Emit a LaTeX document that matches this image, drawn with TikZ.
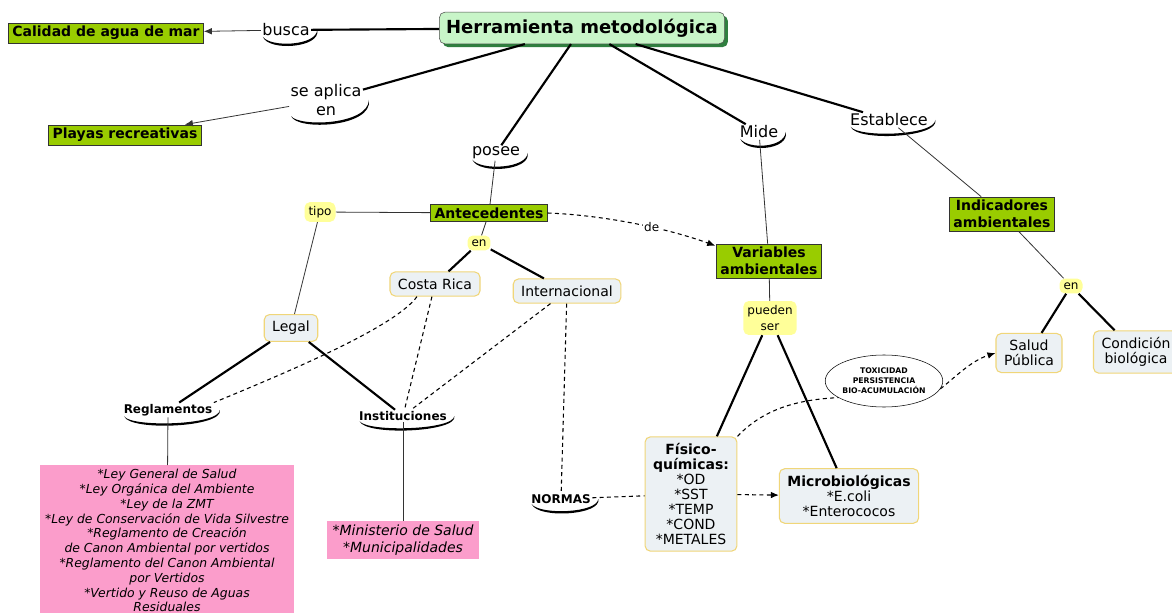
\documentclass[tikz,border=0pt]{standalone}
\usepackage{fontspec}
\setmainfont{DejaVu Sans}
\usetikzlibrary{shapes.geometric,calc,shadows,arrows.meta}
\definecolor{vd}{HTML}{99CC00}
\definecolor{vc}{HTML}{C8F5C8}
\definecolor{vs}{HTML}{2F7F3F}
\definecolor{am}{HTML}{FFFF99}
\definecolor{gc}{HTML}{ECF1F4}
\definecolor{bo}{HTML}{F0D679}
\definecolor{ro}{HTML}{FB9DCB}
\newcommand\swoosh[1]{\fill ($(#1.south west)+(2,-1)$) .. controls ($(#1.south west)+(8,14)$) and ($(#1.south east)+(10,10)$) .. ($(#1.east)+(6,0)$) .. controls ($(#1.south east)+(5,8)$) and ($(#1.south west)+(10,10)$) .. cycle;}

\begin{document}
\begin{tikzpicture}[x=0.75pt,y=-0.75pt,>={Latex[length=6pt,width=5pt]}]

\tikzstyle{raiz} = [draw=black!70, fill=vc, rounded corners=4pt, font=\fontsize{13.5}{16}\selectfont\bfseries, inner xsep=5pt, inner ysep=5pt, drop shadow={fill=vs, opacity=1, shadow xshift=2.5pt, shadow yshift=-2.5pt}]
\tikzstyle{verde} = [draw=black!80, fill=vd, font=\fontsize{10.5}{12.5}\selectfont\bfseries, inner xsep=3pt, inner ysep=2.5pt, align=center]
\tikzstyle{conc} = [draw=bo, thick, fill=gc, rounded corners=4pt, font=\fontsize{10.5}{11.2}\selectfont, inner xsep=6pt, inner ysep=5pt, align=center]
\tikzstyle{amar} = [fill=am, rounded corners=4pt, font=\fontsize{9}{12.5}\selectfont, inner sep=3pt, align=center]
\tikzstyle{lnk} = [font=\fontsize{12}{14}\selectfont, inner sep=1pt, align=center]
\tikzstyle{lnkb} = [font=\fontsize{9}{11}\selectfont\bfseries, inner sep=1pt]
\tikzstyle{rosa} = [fill=ro, font=\fontsize{9.3}{11.1}\selectfont\itshape, inner xsep=4pt, inner ysep=3pt, align=center]
\tikzstyle{elip} = [draw, ellipse, font=\fontsize{5.8}{7.5}\selectfont\bfseries, align=center, minimum width=79pt, minimum height=39pt, inner sep=0pt]
\tikzstyle{fino} = [draw=black!80, line width=0.6pt]
\tikzstyle{grueso} = [draw=black, line width=1.6pt]
\tikzstyle{punt} = [draw=black, line width=0.8pt, dash pattern=on 3pt off 2.5pt]

\useasboundingbox[fill=white] (0,0) rectangle (1172,613);

\node[raiz] (herr) at (582,28) {Herramienta metodológica};
\node[lnk] (busca) at (286,30) {busca};
\node[verde] (calidad) at (106,33) {Calidad de agua de mar};
\node[lnk] (aplica) at (326,100) {se aplica\\en};
\node[verde] (playas) at (125,135) {Playas recreativas};
\node[lnk] (posee) at (496,153) {posee};
\node[lnk] (mide) at (759,132) {Mide};
\node[lnk] (establece) at (889,120) {Establece};
\node[verde] (antec) at (489,213) {Antecedentes};
\node[amar] (tipo) at (320,212) {tipo};
\node[amar] (en1) at (479,243) {en};
\node[verde] (variables) at (769,261) {Variables\\ambientales};
\node[verde] (indic) at (1002,214) {Indicadores\\ambientales};
\node[amar] (en2) at (1071,286) {en};
\node[conc] (cr) at (435,284) {Costa Rica};
\node[conc] (inter) at (567,291) {Internacional};
\node[conc] (legal) at (291,328) {Legal};
\node[amar] (pueden) at (770,318) {pueden\\ser};
\node[conc] (salud) at (1029,353) {Salud\\Pública};
\node[conc] (cond) at (1136,352) {Condición\\biológica};
\node[elip] (tox) at (884,381) {TOXICIDAD\\PERSISTENCIA\\BIO-ACUMULACIÓN};
\node[lnkb] (regl) at (168,410) {Reglamentos};
\node[lnkb] (inst) at (403,416) {Instituciones};
\node[lnkb] (normas) at (561,499) {NORMAS};
\node[conc] (fq) at (691,494) {\textbf{Físico-}\\\textbf{químicas:}\\*OD\\*SST\\*TEMP\\*COND\\*METALES};
\node[conc] (micro) at (849,496) {\textbf{Microbiológicas}\\*E.coli\\*Enterococos};
\node[rosa, anchor=north, minimum width=191pt] (leyes) at (167,465) {*Ley General de Salud\\*Ley Orgánica del Ambiente\\*Ley de la ZMT\\*Ley de Conservación de Vida Silvestre\\*Reglamento de Creación\\de Canon Ambiental por vertidos\\*Reglamento del Canon Ambiental\\por Vertidos\\*Vertido y Reuso de Aguas\\Residuales};
\node[rosa, font=\fontsize{10.5}{12.5}\selectfont\itshape] (minist) at (403,540) {*Ministerio de Salud\\*Municipalidades};

\swoosh{busca}
\swoosh{aplica}
\swoosh{posee}
\swoosh{mide}
\swoosh{establece}
\swoosh{regl}
\swoosh{inst}
\swoosh{normas}

\draw[grueso] (herr) -- (busca);
\draw[fino,->] (busca) -- (calidad);
\draw[grueso] (herr) -- (aplica);
\draw[fino,->] (aplica) -- (playas);
\draw[grueso] (herr) -- (posee);
\draw[grueso] (herr) -- (mide);
\draw[grueso] (herr) -- (establece);
\draw[fino] (posee) -- (antec);
\draw[fino] (mide) -- (variables);
\draw[fino] (establece) -- (indic);
\draw[fino] (antec) -- (tipo);
\draw[fino] (tipo) -- (legal);
\draw[fino] (antec) -- (en1);
\draw[grueso] (en1) -- (cr);
\draw[grueso] (en1) -- (inter);
\draw[punt,->] (antec.east) .. controls ($(antec.east)+(52,2)$) and ($(variables.north west)+(-54,-17)$) .. node[pos=0.62, fill=white, inner sep=1pt, font=\fontsize{9}{11}\selectfont] (de) {de} ($(variables.north west)+(-1,2)$);
\draw[fino] (variables) -- (pueden);
\draw[grueso] (pueden) -- (fq);
\draw[grueso] (pueden) -- (micro);
\draw[fino] (indic) -- (en2);
\draw[grueso] (en2) -- (salud);
\draw[grueso] (en2) -- (cond);
\draw[grueso] (legal) -- (regl);
\draw[grueso] (legal) -- (inst);
\draw[fino] (regl) -- (leyes);
\draw[fino] (inst) -- (minist);
\draw[punt] ($(cr.south)+(-18,0)$) .. controls ($(cr.south)+(-40,30)$) and ($(regl.north east)+(80,-33)$) .. (regl.north east);
\draw[punt] (cr) -- (inst);
\draw[punt] (inter) -- (inst);
\draw[punt] (inter) -- (normas);
\draw[punt] (normas) -- (fq);
\draw[punt,->] (fq) -- (micro);
\draw[punt] (fq.north east) .. controls ($(fq.north east)+(26,-27)$) and ($(tox.200)+(-42,2)$) .. (tox.200);
\draw[punt,->] (tox.-8) .. controls ($(tox.-8)+(13,-10)$) and ($(salud.west)+(-25,8)$) .. (salud.west);

\end{tikzpicture}
\end{document}
